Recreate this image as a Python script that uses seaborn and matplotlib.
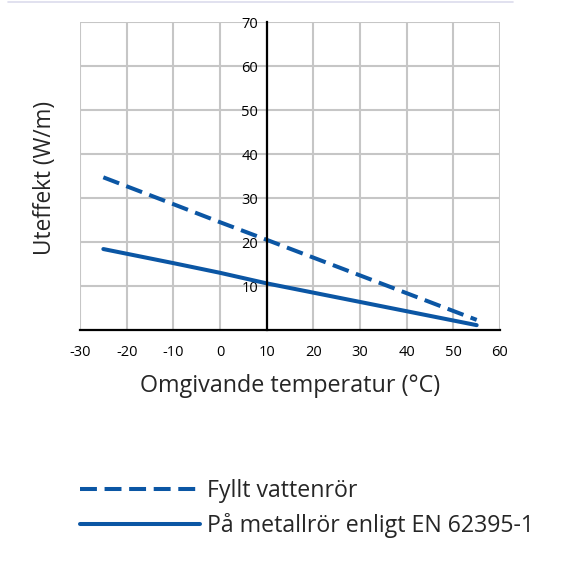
import matplotlib
matplotlib.use("Agg")
import matplotlib.pyplot as plt
from matplotlib.lines import Line2D
import pandas as pd
import seaborn as sns

# ============================================================================
# DATA
# ============================================================================

temp = [-25, -10, 0, 10, 55]
filled_pipe = [34.7, 28.6, 24.5, 20.5, 2.3]
metal_pipe = [18.4, 15.2, 13.0, 10.6, 1.1]

series_names = ["Fyllt vattenrör", "På metallrör enligt EN 62395-1"]
x_ticks = list(range(-30, 61, 10))
y_ticks = list(range(10, 71, 10))

df = pd.DataFrame({
    "temp": temp * 2,
    "power": filled_pipe + metal_pipe,
    "serie": [series_names[0]] * len(temp) + [series_names[1]] * len(temp),
})

BLUE = "#0b56a4"
GRID = "#c6c6c6"
DASH = (4.2, 1.9)
LW = 2.9

sns.set_style("white")
plt.rcParams["font.family"] = ["Open Sans", "DejaVu Sans"]
plt.rcParams["axes.unicode_minus"] = False

fig = plt.figure(figsize=(5.67, 5.67), dpi=100)
ax = fig.add_axes([80 / 567, 237 / 567, 420 / 567, 308 / 567])

sns.lineplot(data=df, x="temp", y="power", hue="serie", style="serie",
             palette=[BLUE, BLUE], dashes=[DASH, ""], linewidth=LW,
             legend=False, ax=ax)

ax.set_xlim(-30, 60)
ax.set_ylim(0, 70)
ax.set_xticks(x_ticks)
ax.set_yticks(y_ticks)
ax.grid(True, color=GRID, linewidth=1.5)
ax.set_axisbelow(True)

for side in ["top", "right"]:
    ax.spines[side].set_visible(False)
ax.spines["left"].set_position(("data", 10))
ax.spines["left"].set_color("black")
ax.spines["left"].set_linewidth(1.6)
ax.spines["bottom"].set_color("black")
ax.spines["bottom"].set_linewidth(1.6)
ax.tick_params(axis="both", direction="out", length=5, width=1.4,
               colors="black", labelsize=10.5)
ax.tick_params(axis="x", pad=6)
ax.tick_params(axis="y", pad=1)

ax.set_xlabel("Omgivande temperatur (°C)", fontsize=16.8, labelpad=10)
ax.set_ylabel("")
fig.text(45 / 567, 1 - 178 / 567, "Uteffekt (W/m)", rotation=90,
         fontsize=16.3, ha="center", va="center")

# legend below the chart
handles = [
    Line2D([0], [0], color=BLUE, linewidth=LW, dashes=DASH),
    Line2D([0], [0], color=BLUE, linewidth=LW),
]
fig.legend(handles, series_names, loc="upper left",
           bbox_to_anchor=(59 / 567, 1 - 458 / 567), frameon=False,
           fontsize=16.7, handlelength=5.2, handletextpad=0.3,
           labelspacing=0.45)

# thin light rule along the top edge
fig.add_artist(Line2D([8 / 567, 513 / 567], [1 - 1.5 / 567, 1 - 1.5 / 567],
                      color="#dcdcec", linewidth=1.2))

fig.savefig("out.png", dpi=100)
